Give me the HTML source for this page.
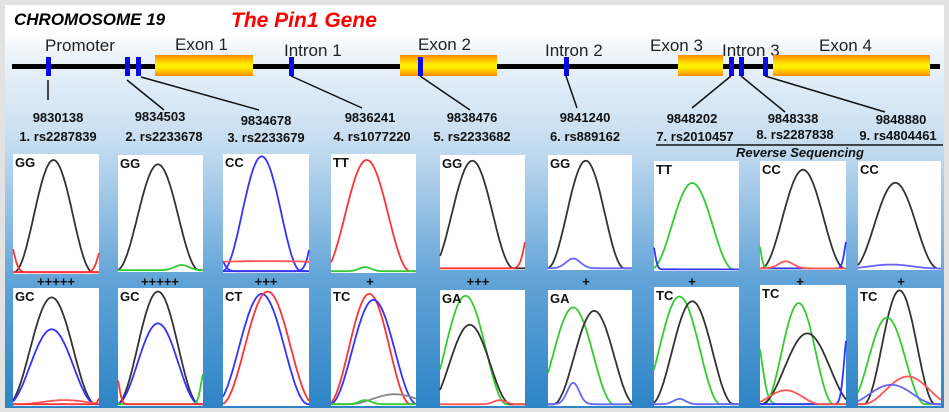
<!DOCTYPE html>
<html><head><meta charset="utf-8"><style>
body{margin:0;width:949px;height:412px;overflow:hidden;background:#e2e2e2}
svg{position:absolute;left:0;top:0}
text{font-family:"Liberation Sans",Arial,sans-serif}
</style></head><body>
<svg id="s" width="949" height="412" viewBox="0 0 949 412">
<defs>
<linearGradient id="bg" x1="0" y1="0" x2="0" y2="1">
<stop offset="0" stop-color="#ffffff"/>
<stop offset="0.07" stop-color="#ffffff"/>
<stop offset="0.12" stop-color="#eef4fa"/>
<stop offset="0.35" stop-color="#c4dcf0"/>
<stop offset="0.68" stop-color="#62a4d8"/>
<stop offset="1" stop-color="#2d84c6"/>
</linearGradient>
<linearGradient id="ex" x1="0" y1="0" x2="0" y2="1">
<stop offset="0" stop-color="#ff8a00"/>
<stop offset="0.45" stop-color="#ffee00"/>
<stop offset="0.6" stop-color="#ffee00"/>
<stop offset="1" stop-color="#ff8a00"/>
</linearGradient>
</defs>
<rect x="5" y="5" width="939" height="403" fill="url(#bg)"/>
<text x="14" y="25" font-size="17" font-weight="bold" font-style="italic">CHROMOSOME 19</text>
<text x="231" y="27" font-size="21" font-weight="bold" font-style="italic" fill="#ff0000">The Pin1 Gene</text>
<g font-size="17" fill="#222">
<text x="45" y="51">Promoter</text>
<text x="175" y="50">Exon 1</text>
<text x="284" y="56">Intron 1</text>
<text x="418" y="50">Exon 2</text>
<text x="545" y="56">Intron 2</text>
<text x="650" y="51">Exon 3</text>
<text x="722" y="56">Intron 3</text>
<text x="819" y="51">Exon 4</text>
</g>
<rect x="12" y="64" width="928" height="5" fill="#000"/>
<g fill="url(#ex)">
<rect x="155" y="55" width="98" height="21"/>
<rect x="400" y="55" width="97" height="21"/>
<rect x="678" y="55" width="45" height="21"/>
<rect x="773" y="55" width="157" height="21"/>
</g>
<g fill="#0a0ae6">
<rect x="46" y="57" width="5" height="19"/><rect x="125" y="57" width="5" height="19"/>
<rect x="136" y="57" width="5" height="19"/><rect x="289" y="57" width="5" height="19"/>
<rect x="418" y="57" width="5" height="19"/><rect x="564" y="57" width="5" height="19"/>
<rect x="729" y="57" width="5" height="19"/><rect x="739" y="57" width="5" height="19"/>
<rect x="763" y="57" width="5" height="19"/>
</g>
<g stroke="#111" stroke-width="1.5">
<line x1="48" y1="80" x2="48" y2="100"/><line x1="127" y1="80" x2="164" y2="110"/>
<line x1="141" y1="77" x2="259" y2="110"/><line x1="291" y1="76" x2="362" y2="108"/>
<line x1="420" y1="76" x2="470" y2="110"/><line x1="566" y1="76" x2="577" y2="108"/>
<line x1="731" y1="76" x2="692" y2="108"/><line x1="741" y1="76" x2="785" y2="112"/>
<line x1="765" y1="76" x2="885" y2="112"/>
</g>
<g font-size="13" font-weight="bold" fill="#111" text-anchor="middle">
<text x="58" y="122">9830138</text><text x="58" y="141">1. rs2287839</text>
<text x="160" y="121">9834503</text><text x="164" y="141">2. rs2233678</text>
<text x="266" y="125">9834678</text><text x="266" y="142">3. rs2233679</text>
<text x="370" y="122">9836241</text><text x="372" y="141">4. rs1077220</text>
<text x="472" y="122">9838476</text><text x="472" y="141">5. rs2233682</text>
<text x="585" y="122">9841240</text><text x="585" y="141">6. rs889162</text>
<text x="692" y="123">9848202</text><text x="695" y="141">7. rs2010457</text>
<text x="793" y="123">9848338</text><text x="795" y="139">8. rs2287838</text>
<text x="901" y="124">9848880</text><text x="898" y="140">9. rs4804461</text>
</g>
<line x1="656" y1="145" x2="943" y2="145" stroke="#111" stroke-width="1.5"/>
<text x="800" y="157" font-size="13" font-weight="bold" font-style="italic" text-anchor="middle" fill="#111">Reverse Sequencing</text>
<g id="panels"></g>
</svg>
<script>
var P=[
[13,154,86,120,'GG',[['#333',.47,.05,.17],['#f33',-.05,.7,.08],['#f33',1.05,.75,.08]]],
[118,155,85,117,'GG',[['#333',.47,.08,.18],['#3c3',.75,.94,.12]]],
[223,154,86,119,'CC',[['#33f',.45,.02,.17],['#33f',1.1,.5,.1],['#33f',-.1,.75,.1],['#f55',.5,.9,2]]],
[331,154,85,119,'TT',[['#f33',.42,.05,.19],['#3c3',.4,.95,.1]]],
[440,155,85,115,'GG',[['#333',.38,.05,.18],['#f33',1.05,.65,.08]]],
[548,155,84,115,'GG',[['#333',.45,.05,.17],['#66f',.3,.9,.12]]],
[654,161,85,110,'TT',[['#3c3',.45,.2,.18],['#33f',-.03,.7,.05]]],
[760,161,86,109,'CC',[['#333',.5,.08,.18],['#3c3',-.03,.7,.05],['#33f',1.02,.7,.05],['#f55',.3,.92,.12]]],
[858,161,83,109,'CC',[['#333',.45,.2,.19],['#66f',.4,.95,.2]]],
[13,288,86,118,'GC',[['#333',.45,.08,.19],['#33f',.45,.35,.19],['#f55',.6,.95,.2],['#f33',1.05,.85,.05]]],
[118,288,85,118,'GC',[['#333',.47,.03,.18],['#33f',.47,.3,.18],['#3c3',1.02,.7,.06],['#f33',-.02,.75,.05]]],
[223,288,86,118,'CT',[['#33f',.45,.05,.2],['#f33',.52,.03,.2]]],
[331,288,85,118,'TC',[['#f33',.45,.05,.18],['#33f',.5,.1,.19],['#888',.75,.9,.2],['#3c3',.4,.95,.1]]],
[440,290,85,116,'GA',[['#3c3',.3,.05,.18],['#333',.35,.3,.18],['#f55',.7,.95,.1]]],
[548,290,84,116,'GA',[['#3c3',.3,.15,.18],['#333',.55,.18,.18],['#66f',.3,.8,.1]]],
[654,287,85,119,'TC',[['#3c3',.3,.08,.18],['#333',.45,.12,.18],['#66f',.3,.94,.1]]],
[760,285,86,121,'TC',[['#3c3',.45,.15,.15],['#3c3',-.05,.4,.1],['#333',.55,.4,.2],['#33f',1.02,.4,.06],['#f55',.3,.87,.15]]],
[858,288,83,118,'TC',[['#333',.5,.02,.16],['#3c3',.35,.25,.17],['#f55',.6,.75,.2],['#66f',.4,.82,.2]]]
];
var g=document.getElementById('panels'),h='';
P.forEach(function(p){
var x=p[0],y=p[1],w=p[2],H=p[3];
h+='<rect x="'+x+'" y="'+y+'" width="'+w+'" height="'+H+'" fill="#fff"/>';
var base=y+H*0.985;
p[5].forEach(function(c){
var pts=[];for(var i=0;i<=80;i++){var f=i/80,e;
if(c[3]>=.15&&c[3]<1){var hw=c[3]*2.7,d=Math.abs(f-c[1]);e=d<hw?0.5+0.5*Math.cos(Math.PI*d/hw):0;}
else e=Math.exp(-Math.pow((f-c[1])/c[3],2));
pts.push((x+f*w).toFixed(1)+','+(base-(base-(y+H*c[2]))*e).toFixed(1));}
h+='<polyline points="'+pts.join(' ')+'" fill="none" stroke="'+c[0]+'" stroke-width="1.8"/>';
});
h+='<text x="'+(x+2)+'" y="'+(y+13)+'" font-size="13" font-weight="bold" fill="#111">'+p[4]+'</text>';
});
var pl=[[56,'+++++'],[160,'+++++'],[266,'+++'],[370,'+'],[478,'+++'],[586,'+'],[692,'+'],[800,'+'],[901,'+']];
pl.forEach(function(q){h+='<text x="'+q[0]+'" y="286" font-size="13" font-weight="bold" text-anchor="middle" fill="#111">'+q[1]+'</text>';});
g.innerHTML=h;
</script>
</body></html>
